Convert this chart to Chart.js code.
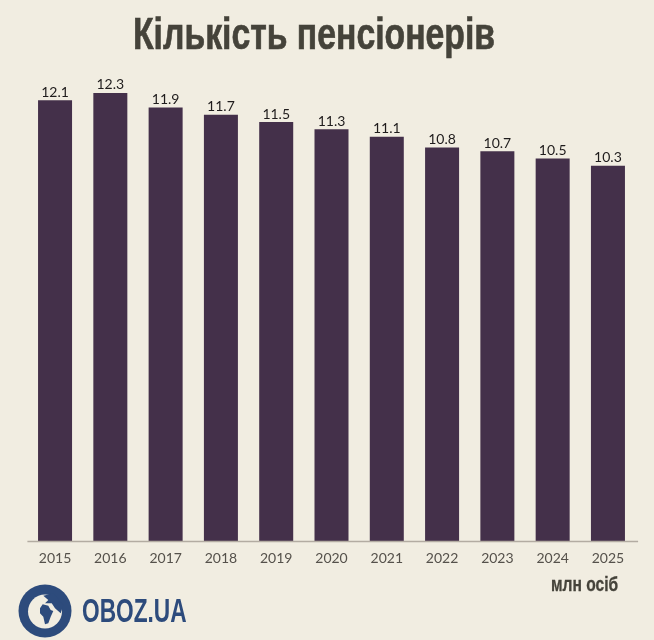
<!DOCTYPE html>
<html lang="uk"><head><meta charset="utf-8">
<script src="https://cdn.jsdelivr.net/npm/chart.js@4"></script>
<style>
html,body{margin:0;padding:0;background:#f1ede1;width:654px;height:640px;overflow:hidden}
#wrap{position:relative;width:654px;height:640px}
canvas{position:absolute;left:0;top:0}
.t{position:absolute;white-space:nowrap;font-family:"Liberation Sans",sans-serif;font-weight:700;transform-origin:0 50%}
#title{left:133px;top:8px;font-size:45px;line-height:52px;color:#45433a;transform:scaleX(.75);-webkit-text-stroke:.7px #45433a}
#unit{left:551px;top:572px;font-size:20px;line-height:24px;color:#45433a;transform:scaleX(.78);-webkit-text-stroke:.3px #45433a}
#brand{left:82px;top:591px;font-size:34px;line-height:38px;color:#2d4b7c;transform:scaleX(.667)}
svg{position:absolute;left:18px;top:584px}
</style></head><body>
<div id="wrap">
<canvas id="c" width="654" height="640"></canvas>
<div class="t" id="title">Кількість пенсіонерів</div>
<div class="t" id="unit">млн осіб</div>
<svg width="54" height="54" viewBox="0 0 54 54"><circle cx="27" cy="27" r="26.5" fill="#2d4b7c"/><circle cx="27" cy="27.5" r="17" fill="#f1ede1"/><path d="M25.3 11.7 30.3 16 27 19.3 33.7 19.3 37 24.3 42.7 29.3 45.3 21 35.3 9.3Z M22 24.3 24.7 20.3 30.3 21.7 32.7 26 35.3 27 32.7 32.7 30.3 39.3 27 40.3 25.3 32.7 22 29.3Z" fill="#2d4b7c"/></svg>
<div class="t" id="brand">OBOZ.UA</div>
</div>
<script>
const categories=["2015","2016","2017","2018","2019","2020","2021","2022","2023","2024","2025"];
const pensioners=[12.1,12.3,11.9,11.7,11.5,11.3,11.1,10.8,10.7,10.5,10.3];
const valueLabels=["12.1","12.3","11.9","11.7","11.5","11.3","11.1","10.8","10.7","10.5","10.3"];
const labelFont='14px Lato, sans-serif';
const extras={id:'extras',
 afterDatasetsDraw(chart){
  const {ctx,chartArea:a}=chart;
  const meta=chart.getDatasetMeta(0);
  ctx.save();
  ctx.strokeStyle='#b3aca2';ctx.lineWidth=1.5;
  ctx.beginPath();ctx.moveTo(a.left,a.bottom+.5);ctx.lineTo(a.right+2.5,a.bottom+.5);ctx.stroke();
  ctx.fillStyle='#1f1c1c';ctx.font=labelFont;ctx.textAlign='center';ctx.textBaseline='bottom';
  meta.data.forEach((b,i)=>ctx.fillText(valueLabels[i],b.x,b.y-1));
  ctx.restore();
 }};
new Chart(document.getElementById('c'),{
 type:'bar',
 data:{labels:categories,datasets:[{data:pensioners,backgroundColor:'#44304a',borderWidth:0,barPercentage:.615,categoryPercentage:1}]},
 options:{responsive:false,animation:false,devicePixelRatio:1,
  layout:{padding:{left:27.4,right:18.4,top:31,bottom:0}},
  plugins:{legend:{display:false},tooltip:{enabled:false}},
  scales:{
   x:{grid:{display:false},border:{display:false},
      ticks:{color:'#55514b',font:{family:'Lato, sans-serif',size:14},padding:1,maxRotation:0,autoSkip:false},
      afterFit(s){s.height=99}},
   y:{display:false,min:0,max:14}
  }},
 plugins:[extras]});
</script>
</body></html>
